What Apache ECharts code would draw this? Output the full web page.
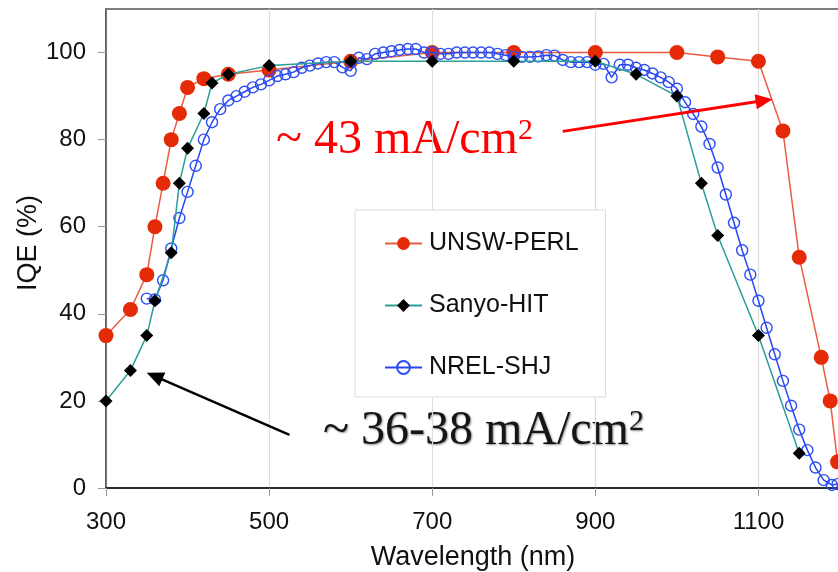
<!DOCTYPE html>
<html>
<head>
<meta charset="utf-8">
<script src="https://cdn.jsdelivr.net/npm/echarts@6/dist/echarts.min.js"></script>
<style>
  html, body { margin: 0; padding: 0; background: #fff; }
  #chart { width: 838px; height: 572px; }
</style>
</head>
<body>
<div id="chart"></div>
<script>
// UNSW-PERL (red filled circles)
const perlNm  = [300, 330, 350, 360, 370, 380, 390, 400, 420, 450, 500, 600, 700, 800, 900, 1000, 1050, 1100, 1130, 1150, 1177, 1188, 1197];
const perlIqe = [35, 41, 49, 60, 70, 80, 86, 92, 94, 95, 96, 98, 100, 100, 100, 100, 99, 98, 82, 53, 30, 20, 6];

// Sanyo-HIT (black diamonds)
const hitNm  = [300, 330, 350, 360, 380, 390, 400, 420, 430, 450, 500, 600, 700, 800, 900, 950, 1000, 1030, 1050, 1100, 1150];
const hitIqe = [20, 27, 35, 43, 54, 70, 78, 86, 93, 95, 97, 98, 98, 98, 98, 95, 90, 70, 58, 35, 8];

// NREL-SHJ (blue open circles)
const shjNm = [350, 360, 370, 380, 390, 400, 410, 420, 430, 440, 450, 460, 470, 480, 490, 500, 510, 520, 530, 540,
  550, 560, 570, 580, 590, 600, 610, 620, 630, 640, 650, 660, 670, 680, 690, 700, 710, 720, 730, 740,
  750, 760, 770, 780, 790, 800, 810, 820, 830, 840, 850, 860, 870, 880, 890, 900, 910, 920, 930, 940,
  950, 960, 970, 980, 990, 1000, 1010, 1020, 1030, 1040, 1050, 1060, 1070, 1080, 1090, 1100, 1110, 1120, 1130, 1140,
  1150, 1160, 1170, 1180, 1190, 1197];
const shjIqe = [43.5, 43.3, 47.7, 55, 62, 68, 74, 80, 84, 87, 89, 90, 91, 92, 92.7, 93.6, 94.6, 95, 95.5, 96.5,
  97, 97.5, 97.8, 97.8, 96.6, 95.8, 98.8, 98.5, 99.7, 100, 100.3, 100.6, 100.8, 100.8, 100, 100, 99.7, 99.7, 100, 100,
  100, 100, 100, 99.7, 99.4, 99, 99, 99, 99.1, 99.4, 99.3, 98.3, 97.8, 97.8, 97.8, 97.2, 97.4, 94.3, 97.2, 97.2,
  96.5, 96, 95.2, 94.3, 93.2, 91.7, 88.6, 85.9, 83, 79, 73.6, 67.4, 60.9, 54.6, 49, 43, 36.8, 30.7, 24.6, 18.9,
  13.4, 8.7, 4.7, 1.8, 0.7, 0.9];

const xTicks = [300, 500, 700, 900, 1100];
const yTicks = [0, 20, 40, 60, 80, 100];

// annotation arrows, [start, head] in data coords
const redArrow = [[860, 81.9], [1107, 89]];
const blackArrow = [[525, 12.2], [359.5, 25.7]];

const sans = "'Liberation Sans', Arial, Helvetica, sans-serif";
const serif = "'Liberation Serif', 'Times New Roman', serif";

const zip = (xs, ys) => xs.map((x, i) => [x, ys[i]]);

const chart = echarts.init(document.getElementById('chart'));
chart.setOption({
  animation: false,
  grid: {
    left: 106, right: -2, top: 9, bottom: 84, outerBoundsMode: 'none',
    show: true, borderColor: '#555', borderWidth: 1.5, backgroundColor: 'transparent'
  },
  xAxis: {
    type: 'value', min: 300, max: 1200, interval: 200,
    name: 'Wavelength (nm)', nameLocation: 'middle', nameGap: 56,
    nameTextStyle: { fontFamily: sans, fontSize: 27, color: '#111' },
    axisLine: { show: true, onZero: false, lineStyle: { color: '#111', width: 1.5 } },
    axisTick: { show: true, customValues: xTicks, length: 8, lineStyle: { color: '#999' } },
    axisLabel: { customValues: xTicks, margin: 22, fontFamily: sans, fontSize: 24, color: '#111', formatter: v => String(v) },
    splitLine: { show: true, lineStyle: { color: '#ddd', width: 1.2 } }
  },
  yAxis: {
    type: 'value', min: 0, max: 110, interval: 20,
    name: 'IQE (%)', nameLocation: 'middle', nameGap: 64, nameMoveOverlap: false,
    nameTextStyle: { fontFamily: sans, fontSize: 27, color: '#111', padding: [0, 0, 0, 11] },
    axisLine: { show: true, onZero: false, lineStyle: { color: '#555', width: 1.5 } },
    axisTick: { show: true, customValues: yTicks, length: 8, lineStyle: { color: '#999' } },
    axisLabel: { customValues: yTicks, margin: 20, fontFamily: sans, fontSize: 24, color: '#111', formatter: v => String(v) },
    splitLine: { show: false }
  },
  legend: {
    data: ['UNSW-PERL', 'Sanyo-HIT', 'NREL-SHJ'],
    orient: 'vertical', left: 355, top: 210,
    padding: [21, 27, 17, 29], itemGap: 37, itemWidth: 37, itemHeight: 16,
    backgroundColor: '#fff', borderColor: '#ddd', borderWidth: 1,
    selectedMode: false,
    textStyle: { fontFamily: sans, fontSize: 25, color: '#111', padding: [0, 0, 0, 2] }
  },
  series: [
    {
      name: 'UNSW-PERL', type: 'line', z: 2,
      data: zip(perlNm, perlIqe),
      symbol: 'circle', symbolSize: 15,
      lineStyle: { color: '#ec5a40', width: 1.5 },
      itemStyle: { color: '#e52a07' }
    },
    {
      name: 'NREL-SHJ', type: 'line', z: 3,
      data: zip(shjNm, shjIqe),
      symbol: 'circle', symbolSize: 11,
      lineStyle: { color: '#2446f2', width: 1.5 },
      itemStyle: { color: 'rgba(255,255,255,0)', borderColor: '#2d4ef5', borderWidth: 1.4 }
    },
    {
      name: 'Sanyo-HIT', type: 'line', z: 4,
      data: zip(hitNm, hitIqe),
      symbol: 'diamond', symbolSize: 13,
      lineStyle: { color: '#2a9f98', width: 1.5 },
      itemStyle: { color: '#000' }
    },
    {
      name: 'notes', type: 'line', z: 5, data: [], silent: true,
      markLine: {
        silent: true, animation: false,
        symbol: ['none', 'triangle'], symbolSize: [15, 17],
        label: { show: false },
        emphasis: { disabled: true },
        data: [
          [{ coord: redArrow[0], lineStyle: { color: '#ff0000', width: 3, type: 'solid' }, itemStyle: { color: '#ff0000' } }, { coord: redArrow[1] }],
          [{ coord: blackArrow[0], lineStyle: { color: '#000', width: 2.5, type: 'solid' }, itemStyle: { color: '#000' } }, { coord: blackArrow[1] }]
        ]
      }
    }
  ],
  graphic: [
    {
      type: 'text', x: 276, y: 140, silent: true,
      style: {
        text: '{m|~ 43 mA/cm}{s|2}', fill: '#ff0000', align: 'left', verticalAlign: 'middle',
        rich: {
          m: { fontFamily: serif, fontSize: 48, fill: '#ff0000' },
          s: { fontFamily: serif, fontSize: 30, fill: '#ff0000', verticalAlign: 'top' }
        }
      }
    },
    {
      type: 'text', x: 323, y: 431, silent: true,
      style: {
        text: '{m|~ 36-38 mA/cm}{s|2}', fill: '#161616', align: 'left', verticalAlign: 'middle',
        textShadowColor: 'rgba(0,0,0,0.45)', textShadowBlur: 2, textShadowOffsetX: 1, textShadowOffsetY: 1,
        rich: {
          m: { fontFamily: serif, fontSize: 48, fill: '#161616' },
          s: { fontFamily: serif, fontSize: 30, fill: '#161616', verticalAlign: 'top' }
        }
      }
    }
  ]
});
</script>
</body>
</html>
